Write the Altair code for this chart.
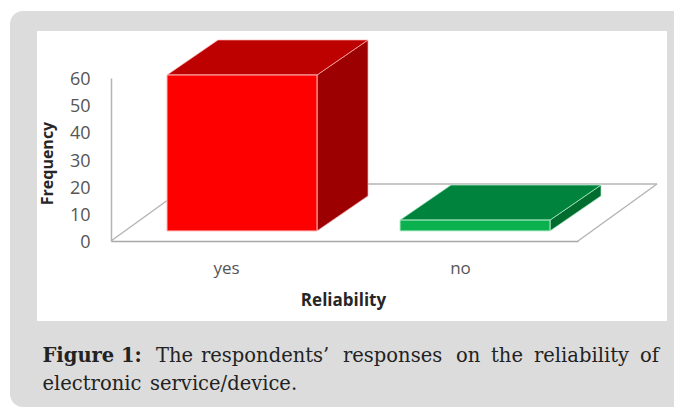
import altair as alt
import pandas as pd

categories = ["yes", "no"]
frequency = [57.4, 4.0]
bar_left = [56, 289]
bar_width = 150
front_colors = ["#ff0000", "#0cb14f"]
top_colors = ["#bd0000", "#00843d"]
side_colors = ["#9c0000", "#006c2e"]
edge_colors = ["#ffb8b8", "#b4ecca"]
tick_values = [0, 10, 20, 30, 40, 50, 60]

BASE = 3.7
DEPTH_X = 51
DEPTH_Y = 12.9
FLOOR_W = 467
FLOOR_DX = 79
FLOOR_DY = 21
VIEW_W, VIEW_H = 467, 163
LEFT, TOP = 111, 78

xs = alt.Scale(domain=[0, VIEW_W], nice=False, zero=False)
ys = alt.Scale(domain=[0, 60], nice=False, zero=False)
x_axis = alt.Axis(
    values=[115, 349], labelExpr="datum.value < 200 ? 'yes' : 'no'",
    tickSize=0, grid=False, domainColor="#a8a8a8", domainWidth=1.5,
    labelFont="Open Sans", labelFontSize=17, labelColor="#555555", labelPadding=19,
    titleFont="Open Sans", titleFontSize=17, titleFontWeight="bold", titleColor="#262626",
    titlePadding=16, titleX=232, zindex=1)
y_axis = alt.Axis(
    values=tick_values, tickSize=0, grid=False,
    domainColor="#b4b4b4", domainWidth=1.5,
    labelFont="Open Sans", labelFontSize=18, labelColor="#555555", labelPadding=21,
    labelOffset=1.5,
    titleFont="Open Sans", titleFontSize=16, titleFontWeight="bold", titleColor="#262626",
    titlePadding=14, titleY=85, zindex=1)


def X(f="x"):
    return alt.X(f"{f}:Q", axis=x_axis, scale=xs, title="Reliability")


def Y(f="y"):
    return alt.Y(f"{f}:Q", axis=y_axis, scale=ys, title="Frequency")


def panel(color, x0, x1, y0, y1, **kw):
    return alt.Chart(alt.Data(values=[{}])).mark_rect(color=color, **kw).encode(
        x=alt.value(x0 - LEFT), x2=alt.value(x1 - LEFT),
        y=alt.value(y0 - TOP), y2=alt.value(y1 - TOP))


layers = [
    panel("#dcdcdc", 10, 674, 11, 407, cornerRadiusTopLeft=13, cornerRadiusBottomLeft=13),
    panel("#ffffff", 37, 667, 31, 321),
]

floor = pd.DataFrame({
    "x": [0, FLOOR_DX, FLOOR_DX, FLOOR_W + FLOOR_DX, FLOOR_W + FLOOR_DX, FLOOR_W],
    "y": [0, FLOOR_DY, FLOOR_DY, FLOOR_DY, FLOOR_DY, 0],
    "s": [0, 0, 1, 1, 2, 2],
})
layers.append(
    alt.Chart(floor).mark_line(color="#b4b4b4", strokeWidth=1.4).encode(
        x=X(), y=Y(), detail="s:N")
)

for i, c in enumerate(categories):
    x0, x1 = bar_left[i], bar_left[i] + bar_width
    top = BASE + frequency[i]
    tf = pd.DataFrame({"y": [top, top + DEPTH_Y], "x": [x0, x0 + DEPTH_X], "x2": [x1, x1 + DEPTH_X]})
    sf = pd.DataFrame({"x": [x1, x1 + DEPTH_X], "y": [BASE, BASE + DEPTH_Y], "y2": [top, top + DEPTH_Y]})
    fr = pd.DataFrame({"x": [x0], "x2": [x1], "y": [BASE], "y2": [top], "category": [c]})
    layers.append(alt.Chart(sf).mark_area(color=side_colors[i], orient="vertical",
                                          stroke=edge_colors[i], strokeWidth=0.7).encode(
        x=X(), y=Y(), y2="y2:Q"))
    layers.append(alt.Chart(tf).mark_area(color=top_colors[i], orient="horizontal",
                                          stroke=edge_colors[i], strokeWidth=0.7).encode(
        y=Y(), x=X(), x2="x2:Q"))
    layers.append(alt.Chart(fr).mark_rect(color=front_colors[i], stroke=edge_colors[i], strokeWidth=1).encode(
        x=X(), x2="x2:Q", y=Y(), y2="y2:Q"))

caption_font = "DejaVu Serif"
line1 = [("Figure", 42.5, "bold"), ("1:", 121, "bold"), ("The", 156, "normal"),
         ("respondents’", 201, "normal"), ("responses", 343, "normal"), ("on", 456, "normal"),
         ("the", 491, "normal"), ("reliability", 534, "normal"), ("of", 640, "normal")]
line2 = [("electronic", 42.5, "normal"), ("service/device.", 150, "normal")]
for words, base in ((line1, 362), (line2, 390)):
    for w, px, weight in words:
        layers.append(alt.Chart(alt.Data(values=[{}])).mark_text(
            text=w, align="left", baseline="alphabetic", font=caption_font, fontSize=19.5,
            fontWeight=weight, color="#222222").encode(
            x=alt.value(px - LEFT), y=alt.value(base - TOP)))

chart = alt.layer(*layers).properties(
    width=VIEW_W, height=VIEW_H,
    padding={"left": LEFT - 8, "top": TOP - 8, "right": 666 - (LEFT - 8) - VIEW_W, "bottom": 399 - (TOP - 8) - VIEW_H},
    autosize=alt.AutoSizeParams(type="none"),
).configure_view(stroke=None)

chart.save("out.html", embed_options={"renderer": "svg", "actions": False})
